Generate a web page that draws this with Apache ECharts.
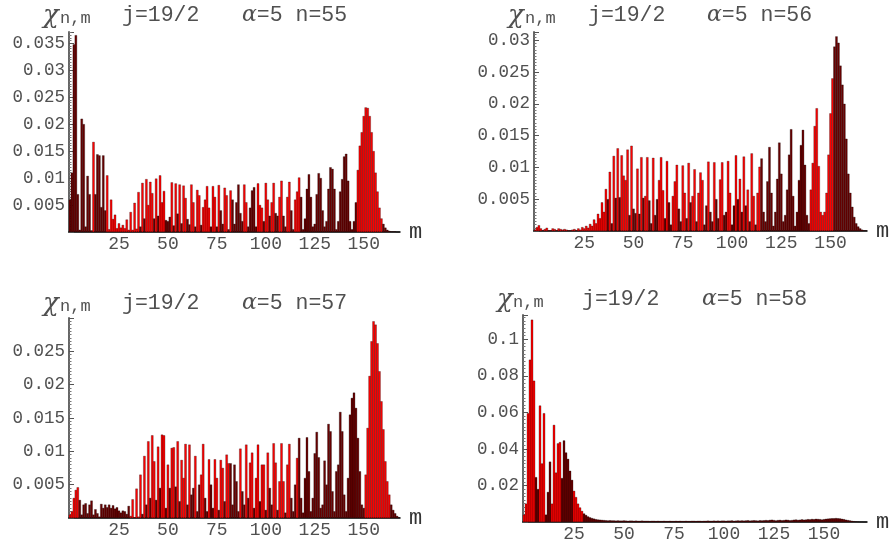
<!DOCTYPE html>
<html>
<head>
<meta charset="utf-8">
<script src="https://cdn.jsdelivr.net/npm/echarts@6/dist/echarts.min.js"></script>
<style>
html, body { margin: 0; padding: 0; background: #fff; }
#main { width: 895px; height: 546px; }
</style>
</head>
<body>
<div id="main"></div>
<script>
// chi_{n,m} for j=19/2, alpha=5 (index = m)
var chi55 = [
  .0060,.0110,.0348,.0365,.0070,.0004,.0210,.0200,.0010,.0104,
  .0070,.0003,.0167,.0070,.0144,.0142,.0046,.0142,.0040,.0105,
  .0005,.0060,.0024,.0032,.0007,.0016,.0008,.0013,.0007,.0023,
  .0004,.0037,.0004,.0054,.0006,.0074,.0010,.0091,.0025,.0098,
  .0050,.0093,.0072,.0025,.0099,.0030,.0105,.0055,.0076,.0022,
  .0020,.0028,.0092,.0012,.0090,.0034,.0088,.0016,.0086,.0063,
  .0024,.0014,.0088,.0055,.0010,.0078,.0068,.0013,.0046,.0060,
  .0085,.0045,.0010,.0085,.0065,.0010,.0087,.0040,.0015,.0082,
  .0068,.0005,.0077,.0060,.0015,.0055,.0088,.0035,.0020,.0088,
  .0055,.0010,.0045,.0077,.0083,.0010,.0090,.0050,.0045,.0020,
  .0091,.0060,.0030,.0055,.0091,.0035,.0030,.0065,.0095,.0030,
  .0010,.0065,.0093,.0040,.0005,.0060,.0075,.0101,.0065,.0005,
  .0025,.0080,.0107,.0065,.0010,.0015,.0070,.0109,.0100,.0040,
  .0010,.0020,.0080,.0120,.0117,.0080,.0005,.0020,.0075,.0098,
  .0140,.0145,.0095,.0020,.0005,.0020,.0055,.0115,.0160,.0185,
  .0215,.0231,.0230,.0215,.0185,.0150,.0110,.0075,.0045,.0025,
  .0015,.0008,.0004,.0002,.0001,.0001,.0001,0,0
];
var chi56 = [
  .0002,.0006,.0009,.0004,.0001,.0003,.0005,.0001,.0001,.0004,
  .0003,.0001,.0004,.0003,.0002,.0003,.0002,.0001,.0001,.0002,
  .0003,.0001,.0004,.0002,.0006,.0004,.0008,.0005,.0011,.0008,
  .0018,.0012,.0027,.0020,.0045,.0030,.0066,.0050,.0093,.0012,
  .0118,.0052,.0130,.0053,.0119,.0087,.0080,.0128,.0025,.0134,
  .0035,.0028,.0098,.0027,.0116,.0052,.0055,.0116,.0048,.0012,
  .0115,.0025,.0050,.0080,.0116,.0064,.0020,.0110,.0045,.0010,
  .0055,.0078,.0104,.0035,.0015,.0103,.0060,.0020,.0107,.0045,
  .0055,.0097,.0015,.0060,.0092,.0080,.0010,.0040,.0109,.0030,
  .0015,.0108,.0050,.0020,.0081,.0108,.0025,.0030,.0110,.0060,
  .0010,.0040,.0119,.0050,.0082,.0030,.0117,.0040,.0065,.0015,
  .0122,.0055,.0010,.0060,.0101,.0114,.0030,.0015,.0078,.0132,
  .0060,.0008,.0030,.0082,.0139,.0090,.0015,.0025,.0065,.0120,
  .0160,.0055,.0008,.0030,.0080,.0135,.0159,.0104,.0025,.0012,
  .0065,.0107,.0165,.0193,.0102,.0030,.0025,.0030,.0060,.0120,
  .0185,.0240,.0290,.0306,.0296,.0260,.0230,.0200,.0145,.0090,
  .0060,.0038,.0022,.0012,.0007,.0004,.0002,.0001,.0001
];
var chi57 = [
  .0005,.0010,.0030,.0042,.0046,.0027,.0005,.0020,.0022,.0007,
  .0020,.0026,.0005,.0013,.0007,.0002,.0021,.0015,.0020,.0016,
  .0020,.0015,.0019,.0014,.0016,.0011,.0008,.0011,.0010,.0006,
  .0018,.0003,.0028,.0001,.0044,.0002,.0065,.0006,.0093,.0020,
  .0115,.0030,.0124,.0085,.0027,.0107,.0045,.0125,.0124,.0015,
  .0080,.0045,.0105,.0106,.0047,.0115,.0025,.0087,.0060,.0111,
  .0020,.0110,.0035,.0045,.0093,.0010,.0050,.0065,.0111,.0030,
  .0010,.0088,.0050,.0015,.0088,.0060,.0012,.0087,.0075,.0025,
  .0095,.0082,.0082,.0020,.0080,.0055,.0010,.0104,.0040,.0020,
  .0110,.0030,.0083,.0098,.0015,.0060,.0110,.0025,.0080,.0080,
  .0012,.0098,.0045,.0020,.0112,.0083,.0012,.0055,.0112,.0055,
  .0008,.0080,.0111,.0030,.0010,.0050,.0090,.0120,.0030,.0008,
  .0060,.0121,.0070,.0010,.0030,.0097,.0129,.0091,.0015,.0020,
  .0086,.0050,.0141,.0130,.0040,.0010,.0070,.0080,.0159,.0130,
  .0035,.0010,.0060,.0155,.0180,.0188,.0165,.0120,.0070,.0020,
  .0015,.0065,.0135,.0213,.0265,.0295,.0290,.0262,.0220,.0175,
  .0133,.0085,.0055,.0035,.0020,.0012,.0007,.0003,.0001
];
var chi58 = [
  .0040,.0100,.0595,.0888,.1107,.0773,.0245,.0180,.0637,.0320,
  .0595,.0040,.0164,.0330,.0100,.0531,.0270,.0430,.0437,.0240,
  .0446,.0380,.0345,.0280,.0230,.0170,.0136,.0100,.0079,.0060,
  .0046,.0038,.0030,.0025,.0021,.0018,.0015,.0013,.0012,.0011,
  .0010,.0009,.0008,.0009,.0008,.0008,.0007,.0008,.0007,.0007,
  .0008,.0007,.0006,.0007,.0007,.0006,.0007,.0006,.0006,.0007,
  .0006,.0006,.0006,.0005,.0006,.0006,.0005,.0006,.0005,.0005,
  .0006,.0005,.0005,.0006,.0005,.0005,.0006,.0005,.0006,.0005,
  .0005,.0006,.0005,.0005,.0006,.0006,.0005,.0006,.0006,.0005,
  .0006,.0006,.0007,.0006,.0006,.0007,.0006,.0007,.0006,.0007,
  .0007,.0006,.0007,.0007,.0008,.0006,.0007,.0008,.0007,.0008,
  .0007,.0008,.0009,.0007,.0008,.0009,.0008,.0007,.0009,.0008,
  .0009,.0010,.0009,.0011,.0012,.0010,.0008,.0010,.0011,.0009,
  .0010,.0012,.0011,.0009,.0010,.0012,.0013,.0011,.0012,.0014,
  .0012,.0013,.0015,.0014,.0016,.0015,.0017,.0016,.0015,.0013,
  .0015,.0017,.0018,.0019,.0020,.0020,.0021,.0020,.0019,.0017,
  .0015,.0012,.0010,.0008,.0006,.0004,.0003,.0002,.0001,.0001,
  0,0
];

var mTicks = [25, 50, 75, 100, 125, 150];
var yTicks55 = [0.005, 0.01, 0.015, 0.02, 0.025, 0.03, 0.035];
var yTicks56 = [0.005, 0.01, 0.015, 0.02, 0.025, 0.03];
var yTicks57 = [0.005, 0.01, 0.015, 0.02, 0.025];
var yTicks58 = [0.02, 0.04, 0.06, 0.08, 0.1];

// m ranges drawn in dark red; in "mix" ranges only the low bars are dark
var dark55 = [[0, 11], [13, 18], [83, 86], [92, 95], [118, 146], [160, 168]];
var mix55 = [[36, 117]];
var dark56 = [[115, 139], [152, 168]];
var mix56 = [[36, 114]];
var dark57 = [[5, 30], [82, 85], [117, 150], [164, 168]];
var mix57 = [[36, 116]];
var dark58 = [[6, 7], [11, 13], [19, 24], [30, 171]];
var mix58 = [];

var RED = '#ff0000';
var DARK = '#6a0000';
var FONT = '"Liberation Mono", "DejaVu Sans Mono", monospace';
var TXT = '#505050';

var panels = [
  {n: 55, data: chi55, ticks: yTicks55, dark: dark55, mix: mix55, mixCut: 0.0045,
   left: 69, top: 32, width: 331, height: 200, cats: 169, max: 0.0371, step: 0.005, ty: 16},
  {n: 56, data: chi56, ticks: yTicks56, dark: dark56, mix: mix56, mixCut: 0.0055,
   left: 534, top: 32, width: 333, height: 199, cats: 169, max: 0.0313, step: 0.005, ty: 16},
  {n: 57, data: chi57, ticks: yTicks57, dark: dark57, mix: mix57, mixCut: 0.0055,
   left: 69, top: 318, width: 331, height: 200, cats: 169, max: 0.0300, step: 0.005, ty: 304},
  {n: 58, data: chi58, ticks: yTicks58, dark: dark58, mix: mix58, mixCut: 0,
   left: 523, top: 315, width: 344, height: 207, cats: 172, max: 0.1133, step: 0.02, ty: 300}
];

function inRanges(m, ranges) {
  for (var i = 0; i < ranges.length; i++) {
    if (m >= ranges[i][0] && m <= ranges[i][1]) return true;
  }
  return false;
}

var dom = document.getElementById('main');
var myChart = echarts.init(dom, null, {renderer: 'canvas'});

var grids = [], xAxes = [], yAxes = [], series = [], graphics = [];
// left edge of each title piece: chi, n,m, j=19/2, alpha=5 n=..
var titleX = [
  [43, 60, 122, 242],
  [508, 525, 588, 707],
  [43, 60, 122, 242],
  [497, 513, 582, 702]
];

panels.forEach(function (p, k) {
  grids.push({left: p.left, top: p.top, width: p.width, height: p.height});

  var cats = [];
  for (var i = 0; i < p.cats; i++) cats.push(String(i));

  xAxes.push({
    type: 'category',
    gridIndex: k,
    data: cats,
    boundaryGap: true,
    axisLine: {lineStyle: {color: '#000', width: 1.5}},
    axisTick: {show: false},
    axisLabel: {
      interval: function (idx) { return mTicks.indexOf(idx) >= 0; },
      margin: 3,
      fontSize: 18,
      color: TXT,
      fontFamily: FONT
    },
    name: 'm',
    nameLocation: 'end',
    nameGap: 9,
    nameTextStyle: {fontSize: 22, color: '#333', fontFamily: FONT, verticalAlign: 'middle'}
  });

  yAxes.push({
    type: 'value',
    gridIndex: k,
    min: 0,
    max: p.max,
    interval: p.step,
    splitLine: {show: false},
    axisLine: {show: true, lineStyle: {color: '#666', width: 2}},
    axisTick: {show: true, inside: true, length: 5, lineStyle: {color: '#555'}},
    minorTick: {show: true, splitNumber: 10, length: 2.5, lineStyle: {color: '#777'}},
    axisLabel: {
      margin: 4,
      fontSize: 17.5,
      color: TXT,
      fontFamily: FONT,
      formatter: function (v) {
        var r = parseFloat(v.toFixed(4));
        return p.ticks.indexOf(r) >= 0 ? String(r) : '';
      }
    }
  });

  var items = p.data.map(function (v, m) {
    var dark = inRanges(m, p.dark) || (inRanges(m, p.mix) && v < p.mixCut);
    return {value: v, itemStyle: {color: dark ? DARK : RED}};
  });

  series.push({
    type: 'bar',
    xAxisIndex: k,
    yAxisIndex: k,
    data: items,
    // a touch wider than the band so neighbouring bars touch with no white seam
    barWidth: p.width / p.cats + 0.3,
    itemStyle: {
      borderColor: '#000',
      borderWidth: 0.28
    },
    animation: false
  });

  var tx = titleX[k];
  graphics.push(
    {type: 'text', left: tx[0], top: p.ty - 13,
     style: {text: 'χ', fontSize: 26, fontStyle: 'italic', fontFamily: '"DejaVu Serif", serif', fill: TXT}},
    {type: 'text', left: tx[1], top: p.ty - 6,
     style: {text: 'n,m', fontSize: 17, fontFamily: FONT, fill: TXT}},
    {type: 'text', left: tx[2], top: p.ty - 12,
     style: {text: 'j=19/2', fontSize: 21.5, fontFamily: FONT, fill: TXT}},
    {type: 'text', left: tx[3], top: p.ty - 12,
     style: {rich: {
       a: {fontSize: 22, fontStyle: 'italic', fontFamily: '"DejaVu Serif", serif', fill: TXT},
       b: {fontSize: 21.5, fontFamily: FONT, fill: TXT}
     }, text: '{a|α}{b|=5 n=' + p.n + '}'}}
  );
});

var option = {
  backgroundColor: '#fff',
  animation: false,
  grid: grids,
  xAxis: xAxes,
  yAxis: yAxes,
  series: series,
  graphic: graphics
};
myChart.setOption(option);
</script>
</body>
</html>
